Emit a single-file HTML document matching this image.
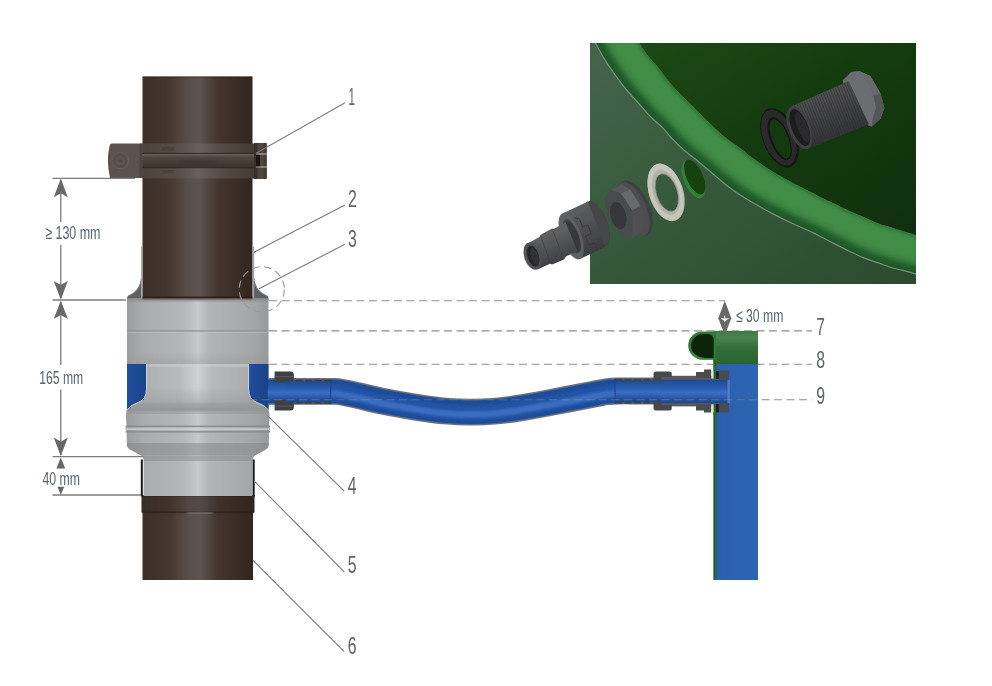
<!DOCTYPE html>
<html>
<head>
<meta charset="utf-8">
<title>Installation diagram</title>
<style>
html,body{margin:0;padding:0;background:#fff;}
body{width:992px;height:686px;overflow:hidden;font-family:"Liberation Sans",sans-serif;}
svg{display:block;filter:blur(0.45px);}
text{font-family:"Liberation Sans",sans-serif;}
.dim{fill:#56646d;font-size:18.4px;}
.num{fill:#5f6367;font-size:23px;}
.ld{stroke:#7b7b7b;stroke-width:1.1;fill:none;}
.dl{stroke:#7c7c7c;stroke-width:1.3;fill:none;}
.ds{stroke:#8e8e8e;stroke-width:1.15;fill:none;stroke-dasharray:8 4.5;}
.ar{fill:#686868;}
</style>
</head>
<body>
<svg width="992" height="686" viewBox="0 0 992 686">
<defs>
  <linearGradient id="gPipe" x1="0" y1="0" x2="1" y2="0">
    <stop offset="0" stop-color="#3b2f29"/>
    <stop offset="0.25" stop-color="#45382f"/>
    <stop offset="0.42" stop-color="#5a504b"/>
    <stop offset="0.52" stop-color="#5d5450"/>
    <stop offset="0.68" stop-color="#43362f"/>
    <stop offset="1" stop-color="#33261f"/>
  </linearGradient>
  <linearGradient id="gGrey" x1="0" y1="0" x2="1" y2="0">
    <stop offset="0" stop-color="#9a9c9d"/>
    <stop offset="0.12" stop-color="#a9abac"/>
    <stop offset="0.40" stop-color="#b4b6b7"/>
    <stop offset="0.50" stop-color="#c6c8c9"/>
    <stop offset="0.58" stop-color="#b2b4b5"/>
    <stop offset="0.88" stop-color="#a4a6a7"/>
    <stop offset="1" stop-color="#96989a"/>
  </linearGradient>
  <linearGradient id="gGreyIn" x1="0" y1="0" x2="1" y2="0">
    <stop offset="0" stop-color="#a7a9aa"/>
    <stop offset="0.38" stop-color="#b9bbbc"/>
    <stop offset="0.50" stop-color="#cfd1d2"/>
    <stop offset="0.60" stop-color="#b7b9ba"/>
    <stop offset="1" stop-color="#a3a5a6"/>
  </linearGradient>
  <linearGradient id="gBlueV" x1="0" y1="0" x2="0" y2="1">
    <stop offset="0" stop-color="#1d4a93"/>
    <stop offset="0.35" stop-color="#2a5db0"/>
    <stop offset="0.55" stop-color="#3c6dc0"/>
    <stop offset="0.8" stop-color="#2556a6"/>
    <stop offset="1" stop-color="#1c468c"/>
  </linearGradient>
  <linearGradient id="gBlueL" x1="0" y1="0" x2="1" y2="0">
    <stop offset="0" stop-color="#1f4f9d"/>
    <stop offset="1" stop-color="#1b4489"/>
  </linearGradient>
  <linearGradient id="gWater" x1="0" y1="0" x2="1" y2="0">
    <stop offset="0" stop-color="#2a60ad"/>
    <stop offset="1" stop-color="#2e65b3"/>
  </linearGradient>
  <linearGradient id="gTankTop" x1="0" y1="0" x2="0" y2="1">
    <stop offset="0" stop-color="#3c7b42"/>
    <stop offset="0.18" stop-color="#4a8450"/>
    <stop offset="0.5" stop-color="#336d39"/>
    <stop offset="1" stop-color="#2a6530"/>
  </linearGradient>
  <linearGradient id="gInsetDark" x1="0" y1="0" x2="1" y2="1">
    <stop offset="0" stop-color="#1d4a14"/>
    <stop offset="0.5" stop-color="#143a0f"/>
    <stop offset="1" stop-color="#0f2f0c"/>
  </linearGradient>
  <linearGradient id="gInsetWall" x1="0" y1="0" x2="1" y2="1">
    <stop offset="0" stop-color="#44654a"/>
    <stop offset="0.5" stop-color="#36583a"/>
    <stop offset="1" stop-color="#2b4a2e"/>
  </linearGradient>

  <linearGradient id="gBand" x1="0" y1="0" x2="1" y2="0">
    <stop offset="0" stop-color="#4d423c"/>
    <stop offset="0.3" stop-color="#574c46"/>
    <stop offset="0.5" stop-color="#6a615c"/>
    <stop offset="0.7" stop-color="#564b45"/>
    <stop offset="1" stop-color="#463a34"/>
  </linearGradient>
  <linearGradient id="gBandMid" x1="0" y1="0" x2="0" y2="1">
    <stop offset="0" stop-color="#5a504b"/>
    <stop offset="0.5" stop-color="#4a403b"/>
    <stop offset="1" stop-color="#3d332e"/>
  </linearGradient>
  <linearGradient id="gBlueR" x1="0" y1="0" x2="1" y2="0">
    <stop offset="0" stop-color="#1f4f9d"/>
    <stop offset="1" stop-color="#1a4286"/>
  </linearGradient>
  <linearGradient id="gShadeDn" x1="0" y1="0" x2="0" y2="1">
    <stop offset="0" stop-color="#8e9091" stop-opacity="0"/>
    <stop offset="1" stop-color="#8e9091" stop-opacity="0.35"/>
  </linearGradient>
  <linearGradient id="gShadeDn2" x1="0" y1="0" x2="0" y2="1">
    <stop offset="0" stop-color="#999b9c" stop-opacity="0"/>
    <stop offset="1" stop-color="#999b9c" stop-opacity="0.75"/>
  </linearGradient>

  <filter id="b05" x="-5%" y="-5%" width="110%" height="110%"><feGaussianBlur stdDeviation="0.55"/></filter>
  <linearGradient id="gBarrel" x1="0" y1="0" x2="0.35" y2="1">
    <stop offset="0" stop-color="#6b6c6e"/>
    <stop offset="0.45" stop-color="#5a5b5d"/>
    <stop offset="1" stop-color="#3c3d3f"/>
  </linearGradient>
  <linearGradient id="gNutBody" x1="0" y1="0" x2="0.4" y2="1">
    <stop offset="0" stop-color="#656668"/>
    <stop offset="0.5" stop-color="#525355"/>
    <stop offset="1" stop-color="#3d3e40"/>
  </linearGradient>
  <linearGradient id="gThread" x1="0" y1="0" x2="0.4" y2="1">
    <stop offset="0" stop-color="#5b5c5e"/>
    <stop offset="0.35" stop-color="#4e4f51"/>
    <stop offset="1" stop-color="#2f3032"/>
  </linearGradient>
  <pattern id="pThread" width="2.6" height="10" patternUnits="userSpaceOnUse" patternTransform="rotate(-22)">
    <rect x="0" y="0" width="1.1" height="10" fill="#2a2b2d"/>
  </pattern>
  <filter id="b1" x="-10%" y="-10%" width="120%" height="120%"><feGaussianBlur stdDeviation="0.6"/></filter>
  <filter id="b2" x="-10%" y="-10%" width="120%" height="120%"><feGaussianBlur stdDeviation="1.2"/></filter>
  <filter id="b3" x="-10%" y="-10%" width="120%" height="120%"><feGaussianBlur stdDeviation="3"/></filter>
  <clipPath id="cBand"><path d="M636.0 38.0 C636.5 38.8 636.9 39.8 638.9 42.7 C640.9 45.6 644.5 51.4 647.7 55.5 C650.9 59.6 654.8 63.3 657.9 67.2 C661.0 71.1 663.5 75.0 666.6 78.8 C669.7 82.6 672.5 86.0 676.3 90.0 C680.1 94.0 684.2 97.8 689.2 102.8 C694.2 107.8 700.8 114.7 706.6 120.3 C712.4 125.9 718.4 131.9 724.0 136.5 C729.6 141.1 735.5 144.6 740.0 148.0 C744.5 151.4 745.9 153.2 751.2 157.0 C756.5 160.8 764.8 166.8 771.6 171.0 C778.4 175.2 785.2 178.8 792.0 182.4 C798.8 186.0 807.7 190.3 812.4 192.7 C817.1 195.1 816.3 195.2 820.0 197.0 C823.7 198.8 829.7 201.5 834.6 203.8 C839.5 206.2 844.4 208.9 849.2 211.1 C854.1 213.3 858.9 214.9 863.7 217.0 C868.6 219.1 873.4 221.7 878.3 223.5 C883.2 225.3 888.0 226.4 892.9 227.9 C897.8 229.4 903.6 231.4 907.5 232.6 C911.4 233.8 913.3 234.3 916.2 235.2 C919.1 236.1 923.5 237.5 925.0 238.0 L925.0 277.0 C923.5 276.6 919.1 275.2 916.2 274.3 C913.3 273.4 911.4 272.7 907.5 271.6 C903.6 270.6 897.8 269.4 892.9 268.0 C888.0 266.6 883.2 264.6 878.3 262.9 C873.4 261.2 868.6 259.8 863.7 257.8 C858.9 255.9 854.1 253.5 849.2 251.2 C844.4 248.9 839.5 246.4 834.6 243.9 C829.7 241.4 823.7 238.2 820.0 236.3 C816.3 234.4 817.1 234.6 812.4 232.4 C807.7 230.2 798.8 226.5 792.0 223.3 C785.2 220.1 778.4 216.7 771.6 213.1 C764.8 209.5 758.0 205.9 751.2 201.8 C744.4 197.7 738.2 194.2 730.8 188.6 C723.4 183.0 712.6 173.5 706.6 168.5 C700.6 163.5 698.9 162.0 695.0 158.8 C691.1 155.6 687.2 153.0 683.3 149.5 C679.4 146.0 675.0 141.7 671.5 138.0 C668.0 134.3 665.8 131.1 662.3 127.5 C658.8 124.0 654.7 120.9 650.6 116.7 C646.5 112.5 641.6 106.7 637.5 102.1 C633.4 97.5 629.7 93.7 625.8 89.0 C621.9 84.3 617.8 78.8 614.2 73.7 C610.6 68.6 607.2 63.6 604.0 58.4 C600.8 53.2 597.2 46.1 595.2 42.7 C593.2 39.3 592.5 38.8 592.0 38.0 Z"/></clipPath>
  <clipPath id="cInset"><rect x="590" y="43" width="326" height="241"/></clipPath>
</defs>

<!-- ============ INSET IMAGE ============ -->
<g id="inset">
  <rect x="590" y="43" width="326" height="241" fill="url(#gInsetWall)"/>
  <g clip-path="url(#cInset)">
    <path d="M636.0 38.0 C636.5 38.8 636.9 39.8 638.9 42.7 C640.9 45.6 644.5 51.4 647.7 55.5 C650.9 59.6 654.8 63.3 657.9 67.2 C661.0 71.1 663.5 75.0 666.6 78.8 C669.7 82.6 672.5 86.0 676.3 90.0 C680.1 94.0 684.2 97.8 689.2 102.8 C694.2 107.8 700.8 114.7 706.6 120.3 C712.4 125.9 718.4 131.9 724.0 136.5 C729.6 141.1 735.5 144.6 740.0 148.0 C744.5 151.4 745.9 153.2 751.2 157.0 C756.5 160.8 764.8 166.8 771.6 171.0 C778.4 175.2 785.2 178.8 792.0 182.4 C798.8 186.0 807.7 190.3 812.4 192.7 C817.1 195.1 816.3 195.2 820.0 197.0 C823.7 198.8 829.7 201.5 834.6 203.8 C839.5 206.2 844.4 208.9 849.2 211.1 C854.1 213.3 858.9 214.9 863.7 217.0 C868.6 219.1 873.4 221.7 878.3 223.5 C883.2 225.3 888.0 226.4 892.9 227.9 C897.8 229.4 903.6 231.4 907.5 232.6 C911.4 233.8 913.3 234.3 916.2 235.2 C919.1 236.1 923.5 237.5 925.0 238.0 L925 36 Z" fill="url(#gInsetDark)"/>
    <path d="M636.0 38.0 C636.5 38.8 636.9 39.8 638.9 42.7 C640.9 45.6 644.5 51.4 647.7 55.5 C650.9 59.6 654.8 63.3 657.9 67.2 C661.0 71.1 663.5 75.0 666.6 78.8 C669.7 82.6 672.5 86.0 676.3 90.0 C680.1 94.0 684.2 97.8 689.2 102.8 C694.2 107.8 700.8 114.7 706.6 120.3 C712.4 125.9 718.4 131.9 724.0 136.5 C729.6 141.1 735.5 144.6 740.0 148.0 C744.5 151.4 745.9 153.2 751.2 157.0 C756.5 160.8 764.8 166.8 771.6 171.0 C778.4 175.2 785.2 178.8 792.0 182.4 C798.8 186.0 807.7 190.3 812.4 192.7 C817.1 195.1 816.3 195.2 820.0 197.0 C823.7 198.8 829.7 201.5 834.6 203.8 C839.5 206.2 844.4 208.9 849.2 211.1 C854.1 213.3 858.9 214.9 863.7 217.0 C868.6 219.1 873.4 221.7 878.3 223.5 C883.2 225.3 888.0 226.4 892.9 227.9 C897.8 229.4 903.6 231.4 907.5 232.6 C911.4 233.8 913.3 234.3 916.2 235.2 C919.1 236.1 923.5 237.5 925.0 238.0 L925.0 277.0 C923.5 276.6 919.1 275.2 916.2 274.3 C913.3 273.4 911.4 272.7 907.5 271.6 C903.6 270.6 897.8 269.4 892.9 268.0 C888.0 266.6 883.2 264.6 878.3 262.9 C873.4 261.2 868.6 259.8 863.7 257.8 C858.9 255.9 854.1 253.5 849.2 251.2 C844.4 248.9 839.5 246.4 834.6 243.9 C829.7 241.4 823.7 238.2 820.0 236.3 C816.3 234.4 817.1 234.6 812.4 232.4 C807.7 230.2 798.8 226.5 792.0 223.3 C785.2 220.1 778.4 216.7 771.6 213.1 C764.8 209.5 758.0 205.9 751.2 201.8 C744.4 197.7 738.2 194.2 730.8 188.6 C723.4 183.0 712.6 173.5 706.6 168.5 C700.6 163.5 698.9 162.0 695.0 158.8 C691.1 155.6 687.2 153.0 683.3 149.5 C679.4 146.0 675.0 141.7 671.5 138.0 C668.0 134.3 665.8 131.1 662.3 127.5 C658.8 124.0 654.7 120.9 650.6 116.7 C646.5 112.5 641.6 106.7 637.5 102.1 C633.4 97.5 629.7 93.7 625.8 89.0 C621.9 84.3 617.8 78.8 614.2 73.7 C610.6 68.6 607.2 63.6 604.0 58.4 C600.8 53.2 597.2 46.1 595.2 42.7 C593.2 39.3 592.5 38.8 592.0 38.0 Z" fill="#418c47"/>
    <g clip-path="url(#cBand)">
      <path d="M592.0 38.0 C592.5 38.8 593.2 39.3 595.2 42.7 C597.2 46.1 600.8 53.2 604.0 58.4 C607.2 63.6 610.6 68.6 614.2 73.7 C617.8 78.8 621.9 84.3 625.8 89.0 C629.7 93.7 633.4 97.5 637.5 102.1 C641.6 106.7 646.5 112.5 650.6 116.7 C654.7 120.9 658.8 124.0 662.3 127.5 C665.8 131.1 668.0 134.3 671.5 138.0 C675.0 141.7 679.4 146.0 683.3 149.5 C687.2 153.0 691.1 155.6 695.0 158.8 C698.9 162.0 700.6 163.5 706.6 168.5 C712.6 173.5 723.4 183.0 730.8 188.6 C738.2 194.2 744.4 197.7 751.2 201.8 C758.0 205.9 764.8 209.5 771.6 213.1 C778.4 216.7 785.2 220.1 792.0 223.3 C798.8 226.5 807.7 230.2 812.4 232.4 C817.1 234.6 816.3 234.4 820.0 236.3 C823.7 238.2 829.7 241.4 834.6 243.9 C839.5 246.4 844.4 248.9 849.2 251.2 C854.1 253.5 858.9 255.9 863.7 257.8 C868.6 259.8 873.4 261.2 878.3 262.9 C883.2 264.6 888.0 266.6 892.9 268.0 C897.8 269.4 903.6 270.6 907.5 271.6 C911.4 272.7 913.3 273.4 916.2 274.3 C919.1 275.2 923.5 276.6 925.0 277.0" stroke="#1f5526" stroke-width="17" fill="none" filter="url(#b3)" opacity="0.95"/>
      <path d="M636.0 38.0 C636.5 38.8 636.9 39.8 638.9 42.7 C640.9 45.6 644.5 51.4 647.7 55.5 C650.9 59.6 654.8 63.3 657.9 67.2 C661.0 71.1 663.5 75.0 666.6 78.8 C669.7 82.6 672.5 86.0 676.3 90.0 C680.1 94.0 684.2 97.8 689.2 102.8 C694.2 107.8 700.8 114.7 706.6 120.3 C712.4 125.9 718.4 131.9 724.0 136.5 C729.6 141.1 735.5 144.6 740.0 148.0 C744.5 151.4 745.9 153.2 751.2 157.0 C756.5 160.8 764.8 166.8 771.6 171.0 C778.4 175.2 785.2 178.8 792.0 182.4 C798.8 186.0 807.7 190.3 812.4 192.7 C817.1 195.1 816.3 195.2 820.0 197.0 C823.7 198.8 829.7 201.5 834.6 203.8 C839.5 206.2 844.4 208.9 849.2 211.1 C854.1 213.3 858.9 214.9 863.7 217.0 C868.6 219.1 873.4 221.7 878.3 223.5 C883.2 225.3 888.0 226.4 892.9 227.9 C897.8 229.4 903.6 231.4 907.5 232.6 C911.4 233.8 913.3 234.3 916.2 235.2 C919.1 236.1 923.5 237.5 925.0 238.0" stroke="#2f7536" stroke-width="5" fill="none" filter="url(#b2)" opacity="0.8"/>
    </g>
    <path d="M592.0 38.0 C592.5 38.8 593.2 39.3 595.2 42.7 C597.2 46.1 600.8 53.2 604.0 58.4 C607.2 63.6 610.6 68.6 614.2 73.7 C617.8 78.8 621.9 84.3 625.8 89.0 C629.7 93.7 633.4 97.5 637.5 102.1 C641.6 106.7 646.5 112.5 650.6 116.7 C654.7 120.9 658.8 124.0 662.3 127.5 C665.8 131.1 668.0 134.3 671.5 138.0 C675.0 141.7 679.4 146.0 683.3 149.5 C687.2 153.0 691.1 155.6 695.0 158.8 C698.9 162.0 700.6 163.5 706.6 168.5 C712.6 173.5 723.4 183.0 730.8 188.6 C738.2 194.2 744.4 197.7 751.2 201.8 C758.0 205.9 764.8 209.5 771.6 213.1 C778.4 216.7 785.2 220.1 792.0 223.3 C798.8 226.5 807.7 230.2 812.4 232.4 C817.1 234.6 816.3 234.4 820.0 236.3 C823.7 238.2 829.7 241.4 834.6 243.9 C839.5 246.4 844.4 248.9 849.2 251.2 C854.1 253.5 858.9 255.9 863.7 257.8 C868.6 259.8 873.4 261.2 878.3 262.9 C883.2 264.6 888.0 266.6 892.9 268.0 C897.8 269.4 903.6 270.6 907.5 271.6 C911.4 272.7 913.3 273.4 916.2 274.3 C919.1 275.2 923.5 276.6 925.0 277.0" stroke="#7c977e" stroke-width="1.25" fill="none" filter="url(#b1)" opacity="0.9"/>
  </g>
</g>

<!-- ============ INSET FITTINGS ============ -->
<g id="fittings" filter="url(#b05)">
  <!-- hole in wall -->
  <g transform="translate(693.4 179.4) rotate(-24)">
    <ellipse cx="0" cy="0" rx="9.4" ry="20.2" fill="#2f8236"/>
    <ellipse cx="2.2" cy="-1.6" rx="8.2" ry="18.6" fill="#124210"/>
  </g>
  <!-- washer -->
  <g transform="translate(666.1 192.4) rotate(-18)">
    <path d="M-17.1 0.0 A17.1 29.8 0 1 1 17.1 0.0 A17.1 29.8 0 1 1 -17.1 0.0 Z M-10.0 0.4 A10.6 19.6 0 1 0 11.2 0.4 A10.6 19.6 0 1 0 -10.0 0.4 Z" fill="#b3b2a8" fill-rule="evenodd"/>
    <path d="M-16.9 -0.3 A16.6 29.3 0 1 1 16.3 -0.3 A16.6 29.3 0 1 1 -16.9 -0.3 Z M-12.8 -0.2 A12.6 23.6 0 1 0 12.4 -0.2 A12.6 23.6 0 1 0 -12.8 -0.2 Z" fill="#c9c8bf" fill-rule="evenodd" opacity="0.9"/>
    <path d="M-10.0 0.4 A10.6 19.6 0 1 0 11.2 0.4 A10.6 19.6 0 1 0 -10.0 0.4 Z" fill="none" stroke="#9b9a90" stroke-width="0.9" opacity="0.8"/>
  </g>
  <!-- hex nut -->
  <g>
    <g transform="translate(634.9 208.3) rotate(-24)">
      <ellipse cx="0" cy="0" rx="14.6" ry="29.6" fill="#404143"/>
      <ellipse cx="-2.2" cy="0" rx="13.4" ry="28.8" fill="#4d4e50"/>
    </g>
    <path d="M604.9 197.4 L610.2 189.8 L620.9 193.3 L632.3 210.8 L632.3 238.3 L628.8 238.8 L617.2 231.8 L607.3 216.7 Z" fill="#4a4b4d"/>
    <path d="M610.2 189.8 L621.8 184.6 L630.0 189.3 L620.9 193.3 Z" fill="#57585a"/>
    <path d="M620.9 193.3 L630.0 189.3 L640.5 205.6 L632.3 210.8 Z" fill="#68696b"/>
    <path d="M632.3 210.8 L640.5 205.6 L646.3 221.3 L641.7 231.3 L632.3 238.3 Z" fill="#4f5052"/>
    <g transform="translate(619.5 214.9) rotate(-15)">
      <ellipse cx="0" cy="0" rx="9.3" ry="14.8" fill="#4d4e50"/>
      <ellipse cx="-1.3" cy="0.2" rx="7.8" ry="14" fill="#36373a"/>
    </g>
  </g>
  <!-- hose adapter -->
  <g>
    <!-- union nut -->
    <g transform="translate(596.6 224.2) rotate(-21)">
      <ellipse cx="0" cy="0" rx="11" ry="24.4" fill="#454648"/>
    </g>
    <path d="M562.5 213.5 L587.9 201.4 L605.3 247.0 L579.9 259.1 Z" fill="url(#gNutBody)"/>
    <path d="M574 217.5 L579.5 219 L582.5 227 L588 225 L591 233.5 L585.5 236 L588.5 245 L594.5 243 L597.5 251" stroke="#38393b" stroke-width="1" fill="none" opacity="0.85"/>
    <g transform="translate(571.2 236.3) rotate(-21)">
      <ellipse cx="0" cy="0" rx="9.8" ry="24.4" fill="#5f6062"/>
      <ellipse cx="0.8" cy="0.3" rx="6.8" ry="18" fill="#454648"/>
      <ellipse cx="1.2" cy="0.4" rx="5.8" ry="16.2" fill="#38393b"/>
    </g>
    <!-- barrel -->
    <path d="M528.6 243 L539 237.2 L541 234.6 L552 228.4 L553.6 229 L565.5 222.2 L577.4 251 L566 256.5 L564 259.5 L552 264.5 L550 263.8 L537.5 269.5 Z" fill="url(#gBarrel)"/>
    <path d="M552.5 229.5 L563.5 258.5" stroke="#3a3b3d" stroke-width="0.9" opacity="0.6"/>
    <path d="M540.5 235.6 L550.5 263.5" stroke="#3a3b3d" stroke-width="0.9" opacity="0.6"/>
    <!-- open end -->
    <g transform="translate(532.4 256.1) rotate(-18)">
      <ellipse cx="0" cy="0" rx="8.2" ry="14" fill="#505153"/>
      <ellipse cx="0.7" cy="0.2" rx="5.6" ry="10.8" fill="#262729"/>
      <ellipse cx="2" cy="0.6" rx="3.6" ry="9" fill="#333436" opacity="0.8"/>
    </g>
  </g>
  <!-- black o-ring -->
  <g transform="translate(779.6 137.6) rotate(-21)">
    <path d="M-17.0 0.0 A17.0 31.1 0 1 1 17.0 0.0 A17.0 31.1 0 1 1 -17.0 0.0 Z M-7.8 1.4 A7.9 20.7 0 1 0 8.0 1.4 A7.9 20.7 0 1 0 -7.8 1.4 Z" fill="#171717" fill-rule="evenodd"/>
    <path d="M-16.0 -0.4 A15.4 29.4 0 1 1 14.8 -0.4 A15.4 29.4 0 1 1 -16.0 -0.4 Z M-9.9 1.0 A9.6 22.6 0 1 0 9.3 1.0 A9.6 22.6 0 1 0 -9.9 1.0 Z" fill="#2b2b2b" fill-rule="evenodd" opacity="0.9"/>
  </g>
  <!-- threaded fitting -->
  <g>
    <!-- flange -->
    <path d="M842.7 80.5 L851.4 71.9 L859.5 70.9 L870.4 76 L880.6 93.5 L884.4 108.1 L880.8 118.5 L871.9 126.5 L863 123.5 L850 100 Z" fill="#606163"/>
    <path d="M842.7 80.5 L851.4 71.9 L859.5 70.9 L864 75 L872.5 92 L876 108 L872.5 119.5 L871.9 126.5 L863 123.5 L850 100 Z" fill="#6c6d6f"/>
    <path d="M859.5 70.9 L870.4 76 L880.6 93.5 L873.5 95 L864 75 Z" fill="#6a6b6d"/>
    <path d="M880.6 93.5 L884.4 108.1 L880.8 118.5 L871.9 126.5 L872.5 119.5 L876 108 L873.5 95 Z" fill="#555658"/>
    <!-- cylinder -->
    <path d="M790.9 106.7 L848.5 81.1 L868.9 124.2 L807.7 148.9 Z" fill="url(#gThread)"/>
    <path d="M790.9 106.7 L848.5 81.1 L868.9 124.2 L807.7 148.9 Z" fill="url(#pThread)" opacity="0.5"/>
    <g transform="translate(799.3 127.8) rotate(-21.7)">
      <ellipse cx="0" cy="0" rx="10.6" ry="22.7" fill="#3f4042"/>
      <ellipse cx="0.6" cy="0" rx="8.2" ry="19.4" fill="#1c1d1e"/>
      <ellipse cx="3.2" cy="0.8" rx="5" ry="16" fill="#2f3032" opacity="0.8"/>
    </g>
  </g>
</g>
</g>

<!-- ============ DOWNPIPE ============ -->
<g id="pipe">
  <rect x="142.5" y="76.5" width="110" height="223" fill="url(#gPipe)"/>
  <!-- lower pipe with collar -->
  <rect x="142.5" y="495" width="110.5" height="85" fill="url(#gPipe)"/>
  <rect x="141.5" y="495" width="113" height="17.5" fill="url(#gPipe)"/>
  <rect x="141.5" y="495" width="113" height="17.5" fill="#2a1f1a" opacity="0.18"/>
  <rect x="142" y="511.5" width="112" height="1.6" fill="#241a15" opacity="0.55" filter="url(#b1)"/>
  <ellipse cx="200" cy="513" rx="14" ry="1.3" fill="#776e69" opacity="0.7" filter="url(#b1)"/>
  <rect x="142.5" y="495" width="110" height="1.5" fill="#2a1f1a" opacity="0.5"/>
  <rect x="142.5" y="76.5" width="110" height="1.2" fill="#2a1f1a" opacity="0.5"/>
</g>

<!-- ============ CLAMP ============ -->
<g id="clamp">
  <!-- left lug -->
  <path d="M112 143.5 L142.5 143.5 L142.5 178 L110 178 Q106 160.5 109.5 146.5 Q110 143.5 112 143.5 Z" fill="#5b524d"/>
  <rect x="139.5" y="143.5" width="3.5" height="34.5" fill="#4a403b" opacity="0.7"/>
  <circle cx="120.2" cy="160.5" r="8.3" fill="#58504b" stroke="#6a625d" stroke-width="0.8"/>
  <circle cx="120.2" cy="160.5" r="5.5" fill="#5d5550" stroke="#4e4641" stroke-width="0.6"/>
  <circle cx="120.2" cy="160.5" r="1.5" fill="#4a423d"/>
  <!-- band -->
  <rect x="142.5" y="143.5" width="111.5" height="35" fill="url(#gBand)"/>
  <rect x="142.5" y="153.5" width="111.5" height="14" fill="url(#gBandMid)"/>
  <rect x="142.5" y="152.8" width="111.5" height="1.2" fill="#2e2420" opacity="0.7"/>
  <rect x="142.5" y="167" width="111.5" height="1.2" fill="#2e2420" opacity="0.7"/>
  <ellipse cx="197" cy="162.5" rx="20" ry="2.6" fill="#362c27" opacity="0.4" filter="url(#b2)"/>
  <rect x="142.5" y="154" width="111.5" height="1.6" fill="#7a716c" opacity="0.45" filter="url(#b1)"/>
  <rect x="162" y="147" width="12" height="3.4" fill="#3e342f" opacity="0.35" filter="url(#b1)"/>
  <rect x="162" y="170" width="12" height="3.4" fill="#3e342f" opacity="0.35" filter="url(#b1)"/>
  <!-- right hinge -->
  <rect x="254" y="143" width="12.7" height="36" rx="2" fill="#50463f"/>
  <rect x="254" y="143" width="3.5" height="36" fill="#3b312c"/>
  <rect x="263.5" y="143" width="3.2" height="36" fill="#463c36"/>
  <rect x="256" y="154.5" width="4" height="13" fill="#1d1512"/>
  <rect x="256" y="153.5" width="11" height="1" fill="#d8d4d0" opacity="0.8"/>
  <rect x="256" y="166.5" width="11" height="1" fill="#d8d4d0" opacity="0.8"/>
</g>

<!-- ============ GREY COLLECTOR ============ -->
<g id="collector">
  <!-- upper thin sleeves + shoulder -->
  <path d="M141 278 Q140 291 128.5 295.6 Q126.8 296.6 127 299 L142.5 299 L142.5 278 Z" fill="#5e6061"/>
  <path d="M254.2 278 Q255.2 291 266.8 295.6 Q268.6 296.6 268.5 299 L252.7 299 L252.7 278 Z" fill="#5e6061"/>
  <path d="M140.6 283 Q138.5 291.5 128.5 295.8" stroke="#8b8d8e" stroke-width="0.9" fill="none" opacity="0.8"/>
  <path d="M254.6 283 Q256.7 291.5 266.8 295.8" stroke="#8b8d8e" stroke-width="0.9" fill="none" opacity="0.8"/>
  <rect x="141" y="246.5" width="1.5" height="52" fill="#a3a5a6"/>
  <rect x="252.7" y="246.5" width="1.5" height="52" fill="#a3a5a6"/>
  <!-- main body -->
  <path d="M127 298.5 L127 409 Q125.2 415 126.6 426 Q124.5 428.5 126.6 431 L126.8 445 Q127.5 448.5 131 450 L141 455.5 Q143.6 457 143.6 460 L143.6 496 L252.6 496 L252.6 460 Q252.6 457 255 455.5 L265 450 Q268.2 448.5 268.8 445 L269 431 Q271 428.5 269 426 Q270.2 415 268.5 409 L268.5 298.5 Z" fill="url(#gGrey)"/>
  <!-- pipe bottom shadow on top of body -->
  <rect x="142.5" y="296.5" width="110" height="3.2" fill="#2b201b" opacity="0.85"/>
  <rect x="127" y="298.5" width="141.5" height="3" fill="#8a8c8d" opacity="0.7" filter="url(#b1)"/>
  <!-- seam -->
  <rect x="127" y="330.3" width="141.5" height="1.4" fill="#8b8d8e" opacity="0.9"/>
  <rect x="127" y="331.7" width="141.5" height="1.2" fill="#c3c5c6" opacity="0.6"/>
  <!-- upper shading bands -->
  <rect x="127" y="352" width="141.5" height="12" fill="url(#gShadeDn)"/>
  <!-- inner lighter section between blue cut-aways -->
  <path d="M146.5 364 L248.6 364 L248.6 389 Q248.6 399.5 257 402.5 Q265.5 405.5 268.5 410 L127 410 Q129.5 405.5 138 402.5 Q146.5 399.5 146.5 389 Z" fill="url(#gGreyIn)"/>
  <rect x="146.5" y="364" width="102" height="2.6" fill="#d3d5d6" opacity="0.45"/>
  <rect x="127" y="386" width="141.5" height="24.5" fill="url(#gShadeDn2)"/>
  <rect x="127" y="403" width="141.5" height="8" fill="#8a8c8d" opacity="0.35" filter="url(#b2)"/>
  <!-- blue cut-aways -->
  <path d="M127 364 L146.5 364 L146.5 389 Q146.5 399.5 138 402.5 Q129.5 405.5 127 410 Z" fill="url(#gBlueL)"/>
  <path d="M268.5 364 L248.6 364 L248.6 389 Q248.6 399.5 257 402.5 Q265.5 405.5 268.5 410 Z" fill="url(#gBlueR)"/>
  <path d="M146.5 364 L146.5 389 Q146.5 399.5 138 402.5 Q129.5 405.5 127 410" stroke="#e4e6e7" stroke-width="0.9" fill="none" opacity="0.9"/>
  <path d="M248.6 364 L248.6 389 Q248.6 399.5 257 402.5 Q265.5 405.5 268.5 410" stroke="#e4e6e7" stroke-width="0.9" fill="none" opacity="0.9"/>
  <!-- lower bulge shading -->
  <rect x="127" y="408" width="141.5" height="6" fill="#8d8f90" opacity="0.35" filter="url(#b1)"/>
  <rect x="125.5" y="425.5" width="144.5" height="1.6" fill="#858788" opacity="0.8" filter="url(#b1)"/>
  <rect x="125.5" y="428.3" width="144.5" height="1.6" fill="#d0d2d3" opacity="0.8" filter="url(#b1)"/>
  <rect x="125.5" y="431" width="144.5" height="1.6" fill="#858788" opacity="0.8" filter="url(#b1)"/>
  <path d="M127 443 L268.5 443 L268.7 446 Q268 448.5 265 450 L255 455.5 L141 455.5 L131 450 Q127.5 448.5 126.8 446 Z" fill="#7f8182" opacity="0.45" filter="url(#b1)"/>
  <rect x="143.6" y="456" width="109" height="5" fill="#8a8c8d" opacity="0.5" filter="url(#b1)"/>
  <!-- black sleeve lines -->
  <rect x="140.8" y="459.5" width="2" height="37" fill="#1a1a1a"/>
  <rect x="252.7" y="459.5" width="2" height="37" fill="#1a1a1a"/>
</g>

<!-- ============ DASHED REFERENCE LINES (under hose) ============ -->
<g id="dashes">
  <path class="ds" d="M269 300.7 L725 300.7"/>
  <path class="ds" d="M269 330.9 L812 330.9"/>
  <path class="ds" d="M269 364.2 L812 364.2"/>
</g>

<!-- ============ TANK ============ -->
<g id="tank">
  <rect x="714" y="363.5" width="44" height="216.5" fill="url(#gWater)"/>
  <rect x="713.6" y="331" width="44.4" height="33" fill="url(#gTankTop)"/>
  <!-- left wall -->
  <rect x="713.6" y="345" width="2.8" height="235" fill="#2a6a31"/>
  <rect x="713.6" y="345" width="0.9" height="235" fill="#1f4f24"/>
  <!-- rolled rim -->
  <path d="M716 331.4 L702.4 331.4 A14.1 14.1 0 0 0 702.4 359.7 L716 359.7 Z" fill="#2d7a33"/>
  <path d="M713.7 339 Q713 334 706 333.9 L702.8 333.9 A11.6 12.1 0 0 0 702.8 358.1 L713.7 358.1 Z" fill="#0c230a"/>
  <path d="M693 352 Q697 357.4 704 357.6 L704 359.7 Q695 359.7 691 352.5 Z" fill="#3f9146" opacity="0.8"/>
</g>

<!-- ============ HOSE ============ -->
<g id="hose">
  <path d="M268.0 391.4 C273.3 391.4 289.5 391.4 300.0 391.4 C310.5 391.4 324.3 391.3 331.0 391.4 C337.7 391.5 335.2 391.1 340.0 391.9 C344.8 392.7 353.2 394.5 360.0 396.0 C366.8 397.5 370.4 398.8 380.5 400.8 C390.6 402.8 410.1 406.2 420.8 407.9 C431.6 409.6 436.6 410.3 445.0 411.0 C453.4 411.7 462.5 412.2 471.2 412.2 C479.9 412.2 488.9 411.7 497.0 411.0 C505.1 410.3 510.8 409.4 520.0 407.9 C529.2 406.4 540.4 404.4 552.5 402.1 C564.6 399.8 583.5 396.1 592.8 394.3 C602.0 392.6 603.8 392.2 608.0 391.6 C612.2 391.1 612.7 391.1 618.0 391.0 C623.3 390.9 632.7 391.0 640.0 391.0 C647.3 391.0 658.3 391.0 662.0 391.0" stroke="#77787a" stroke-width="26.8" fill="none"/>
  <path d="M268.0 391.4 C273.3 391.4 289.5 391.4 300.0 391.4 C310.5 391.4 324.3 391.3 331.0 391.4 C337.7 391.5 335.2 391.1 340.0 391.9 C344.8 392.7 353.2 394.5 360.0 396.0 C366.8 397.5 370.4 398.8 380.5 400.8 C390.6 402.8 410.1 406.2 420.8 407.9 C431.6 409.6 436.6 410.3 445.0 411.0 C453.4 411.7 462.5 412.2 471.2 412.2 C479.9 412.2 488.9 411.7 497.0 411.0 C505.1 410.3 510.8 409.4 520.0 407.9 C529.2 406.4 540.4 404.4 552.5 402.1 C564.6 399.8 583.5 396.1 592.8 394.3 C602.0 392.6 603.8 392.2 608.0 391.6 C612.2 391.1 612.7 391.1 618.0 391.0 C623.3 390.9 632.7 391.0 640.0 391.0 C647.3 391.0 658.3 391.0 662.0 391.0" stroke="#2254a6" stroke-width="23.6" fill="none"/>
  <path d="M268.0 391.4 C273.3 391.4 289.5 391.4 300.0 391.4 C310.5 391.4 324.3 391.3 331.0 391.4 C337.7 391.5 335.2 391.1 340.0 391.9 C344.8 392.7 353.2 394.5 360.0 396.0 C366.8 397.5 370.4 398.8 380.5 400.8 C390.6 402.8 410.1 406.2 420.8 407.9 C431.6 409.6 436.6 410.3 445.0 411.0 C453.4 411.7 462.5 412.2 471.2 412.2 C479.9 412.2 488.9 411.7 497.0 411.0 C505.1 410.3 510.8 409.4 520.0 407.9 C529.2 406.4 540.4 404.4 552.5 402.1 C564.6 399.8 583.5 396.1 592.8 394.3 C602.0 392.6 603.8 392.2 608.0 391.6 C612.2 391.1 612.7 391.1 618.0 391.0 C623.3 390.9 632.7 391.0 640.0 391.0 C647.3 391.0 658.3 391.0 662.0 391.0" stroke="#1c4890" stroke-width="23.6" fill="none" opacity="0.0"/>
  <g filter="url(#b2)">
    <path d="M268.0 391.4 C273.3 391.4 289.5 391.4 300.0 391.4 C310.5 391.4 324.3 391.3 331.0 391.4 C337.7 391.5 335.2 391.1 340.0 391.9 C344.8 392.7 353.2 394.5 360.0 396.0 C366.8 397.5 370.4 398.8 380.5 400.8 C390.6 402.8 410.1 406.2 420.8 407.9 C431.6 409.6 436.6 410.3 445.0 411.0 C453.4 411.7 462.5 412.2 471.2 412.2 C479.9 412.2 488.9 411.7 497.0 411.0 C505.1 410.3 510.8 409.4 520.0 407.9 C529.2 406.4 540.4 404.4 552.5 402.1 C564.6 399.8 583.5 396.1 592.8 394.3 C602.0 392.6 603.8 392.2 608.0 391.6 C612.2 391.1 612.7 391.1 618.0 391.0 C623.3 390.9 632.7 391.0 640.0 391.0 C647.3 391.0 658.3 391.0 662.0 391.0" stroke="#3f70c3" stroke-width="6.5" fill="none" transform="translate(0,2.2)" opacity="0.9"/>
    <path d="M268.0 391.4 C273.3 391.4 289.5 391.4 300.0 391.4 C310.5 391.4 324.3 391.3 331.0 391.4 C337.7 391.5 335.2 391.1 340.0 391.9 C344.8 392.7 353.2 394.5 360.0 396.0 C366.8 397.5 370.4 398.8 380.5 400.8 C390.6 402.8 410.1 406.2 420.8 407.9 C431.6 409.6 436.6 410.3 445.0 411.0 C453.4 411.7 462.5 412.2 471.2 412.2 C479.9 412.2 488.9 411.7 497.0 411.0 C505.1 410.3 510.8 409.4 520.0 407.9 C529.2 406.4 540.4 404.4 552.5 402.1 C564.6 399.8 583.5 396.1 592.8 394.3 C602.0 392.6 603.8 392.2 608.0 391.6 C612.2 391.1 612.7 391.1 618.0 391.0 C623.3 390.9 632.7 391.0 640.0 391.0 C647.3 391.0 658.3 391.0 662.0 391.0" stroke="#1b4791" stroke-width="4" fill="none" transform="translate(0,-9.5)" opacity="0.75"/>
    <path d="M268.0 391.4 C273.3 391.4 289.5 391.4 300.0 391.4 C310.5 391.4 324.3 391.3 331.0 391.4 C337.7 391.5 335.2 391.1 340.0 391.9 C344.8 392.7 353.2 394.5 360.0 396.0 C366.8 397.5 370.4 398.8 380.5 400.8 C390.6 402.8 410.1 406.2 420.8 407.9 C431.6 409.6 436.6 410.3 445.0 411.0 C453.4 411.7 462.5 412.2 471.2 412.2 C479.9 412.2 488.9 411.7 497.0 411.0 C505.1 410.3 510.8 409.4 520.0 407.9 C529.2 406.4 540.4 404.4 552.5 402.1 C564.6 399.8 583.5 396.1 592.8 394.3 C602.0 392.6 603.8 392.2 608.0 391.6 C612.2 391.1 612.7 391.1 618.0 391.0 C623.3 390.9 632.7 391.0 640.0 391.0 C647.3 391.0 658.3 391.0 662.0 391.0" stroke="#1b4791" stroke-width="3.5" fill="none" transform="translate(0,10)" opacity="0.7"/>
  </g>
  <!-- left coupling -->
  <rect x="268" y="380.5" width="20" height="22" fill="url(#gBlueV)"/>
  <rect x="286" y="379.5" width="45" height="24.5" fill="#55575a"/>
  <rect x="286" y="381.2" width="45" height="21" fill="url(#gBlueV)"/>
  <path d="M286 380.6 L331 380.6 M286 402.9 L331 402.9" stroke="#3b3c3e" stroke-width="1.3" stroke-dasharray="7 2.5" fill="none"/>
  <rect x="330" y="379.4" width="1.2" height="24.6" fill="#173f82" opacity="0.7"/>
  <path d="M274.6 371.5 L291 371.5 Q293.5 371.5 293.8 374 L294 380 L286 380 L286 382.3 L274.6 382.3 Z" fill="#3f4043"/>
  <path d="M274.6 410.6 L291 410.6 Q293.5 410.6 293.8 408 L294 402.5 L286 402.5 L286 400 L274.6 400 Z" fill="#3f4043"/>
  <rect x="274.6" y="376" width="19" height="1.2" fill="#5d5e61" opacity="0.8"/>
  <rect x="274.6" y="405.5" width="19" height="1.2" fill="#5d5e61" opacity="0.8"/>
  <!-- right coupling -->
  <rect x="615" y="378.6" width="46" height="25" fill="#55575a"/>
  <rect x="615" y="380.4" width="46" height="21.5" fill="url(#gBlueV)"/>
  <path d="M615 379.8 L661 379.8 M615 402.6 L661 402.6" stroke="#3b3c3e" stroke-width="1.3" stroke-dasharray="7 2.5" fill="none"/>
  <rect x="614.5" y="378.6" width="1.2" height="25" fill="#173f82" opacity="0.7"/>
  <!-- grey sleeve -->
  <rect x="660" y="375.8" width="69" height="30.6" fill="#58595c"/>
  <rect x="660" y="379.8" width="69" height="23.4" fill="url(#gBlueV)"/>
  <rect x="727.5" y="379.8" width="2.2" height="23.4" fill="#5b86d0" opacity="0.8"/>
  <!-- nut 1 -->
  <path d="M653.5 373.5 Q653.5 371.5 656 371.5 L669.5 371.5 Q671.8 371.5 671.8 373.5 L671.8 377 L661.5 377 L661.5 381 L653.5 381 Z" fill="#47484b"/>
  <path d="M653.5 408.5 Q653.5 410.5 656 410.5 L669.5 410.5 Q671.8 410.5 671.8 408.5 L671.8 405 L661.5 405 L661.5 401.5 L653.5 401.5 Z" fill="#47484b"/>
  <!-- nut 2 -->
  <path d="M696 372 L704 372 L704 369.6 L711.3 369.6 L711.3 378 L696 378 Z" fill="#4b4c4f"/>
  <path d="M696 410.5 L704 410.5 L704 412.6 L711.3 412.6 L711.3 404.5 L696 404.5 Z" fill="#4b4c4f"/>
  <!-- white gasket -->
  <rect x="711.3" y="370.5" width="2.6" height="8" fill="#e6e2d8"/>
  <rect x="711.3" y="404.3" width="2.6" height="8" fill="#e6e2d8"/>
  <!-- wall through fitting -->
  <rect x="713.6" y="364" width="2.6" height="15.5" fill="#2a6a31"/>
  <rect x="713.6" y="403.5" width="2.6" height="12" fill="#2a6a31"/>
  <!-- black seal -->
  <rect x="716.2" y="371" width="2.6" height="8" fill="#151515"/>
  <rect x="716.2" y="404" width="2.6" height="8.4" fill="#151515"/>
  <!-- inner flange -->
  <rect x="718.8" y="370.6" width="10.3" height="9.4" fill="#4b4c4f"/>
  <rect x="718.8" y="403" width="10.3" height="9.5" fill="#4b4c4f"/>
</g>

<!-- dashed line 9 drawn over hose faintly + outside -->
<g id="dash9">
  <path class="ds" d="M249 399.7 L758.5 399.7" opacity="0.5"/>
  <path class="ds" d="M758.5 399.7 L812 399.7" stroke-dashoffset="9.5"/>
</g>

<!-- dashed detail circle -->
<circle cx="261.8" cy="289.3" r="22.6" fill="none" stroke="#9a9a9a" stroke-width="1.1" stroke-dasharray="7.5 4.5"/>

<!-- ============ DIMENSIONS ============ -->
<g id="dims">
  <path class="dl" d="M52.5 178.3 L135 178.3"/>
  <path class="dl" d="M52.5 300 L126 300"/>
  <path class="dl" d="M52.5 456.6 L143.5 456.6"/>
  <path class="dl" d="M52.5 495 L141 495"/>
  <path class="dl" d="M60.8 180 L60.8 222 M60.8 245 L60.8 298"/>
  <path class="dl" d="M60.8 302 L60.8 365 M60.8 389.5 L60.8 455"/>
    <!-- arrowheads (notched) -->
  <path class="ar" d="M60.8 178.6 L67.8 197.3 L60.8 193.2 L53.8 197.3 Z"/>
  <path class="ar" d="M60.8 299.7 L67.8 281 L60.8 285.1 L53.8 281 Z"/>
  <path class="ar" d="M60.8 300.4 L67.8 319.1 L60.8 315 L53.8 319.1 Z"/>
  <path class="ar" d="M60.8 456.3 L67.8 437.6 L60.8 441.7 L53.8 437.6 Z"/>
  <path class="ar" d="M60.8 457.6 L65.2 468.6 L56.4 468.6 Z"/>
  <path class="ar" d="M60.8 495 L64.2 486.8 L57.4 486.8 Z"/>
  <!-- 30 mm diamond arrow -->
  <path class="ar" d="M724.8 300.8 L731.3 318.3 L724.8 335.3 L718.3 318.3 Z"/>
  <path d="M720.3 318.3 L729.3 318.3 L724.8 321.3 Z" fill="#fff" opacity="0.9"/>
  <path d="M724.8 315.6 L724.8 322" stroke="#fff" stroke-width="0.8"/>
</g>

<!-- ============ LEADER LINES ============ -->
<g id="leaders">
  <path class="ld" d="M345 102.8 L256.5 153"/>
  <path class="ld" d="M345 204.9 L254 252.3"/>
  <path class="ld" d="M345 244.3 L259 288.7"/>
  <path class="ld" d="M344.2 491.2 L267.5 415.7"/>
  <path class="ld" d="M344.2 571.8 L253.8 480.6"/>
  <path class="ld" d="M344.2 651.7 L253 560.4"/>
</g>

<!-- ============ TEXT ============ -->
<g id="labels">
  <text class="num" x="348.5" y="104.6" textLength="6.5" lengthAdjust="spacingAndGlyphs">1</text>
  <text class="num" x="347.9" y="206.7" textLength="8.8" lengthAdjust="spacingAndGlyphs">2</text>
  <text class="num" x="347.9" y="246.8" textLength="8.8" lengthAdjust="spacingAndGlyphs">3</text>
  <text class="num" x="347.7" y="494.4" textLength="8.8" lengthAdjust="spacingAndGlyphs">4</text>
  <text class="num" x="347.7" y="573" textLength="8.8" lengthAdjust="spacingAndGlyphs">5</text>
  <text class="num" x="347.7" y="653.7" textLength="8.8" lengthAdjust="spacingAndGlyphs">6</text>
  <text class="num" x="816.3" y="335.2" textLength="8.6" lengthAdjust="spacingAndGlyphs">7</text>
  <text class="num" x="816.3" y="368.3" textLength="8.8" lengthAdjust="spacingAndGlyphs">8</text>
  <text class="num" x="816.3" y="403.7" textLength="8.8" lengthAdjust="spacingAndGlyphs">9</text>
  <text class="dim" x="45.2" y="239.4" textLength="55.3" lengthAdjust="spacingAndGlyphs">&#8805; 130 mm</text>
  <text class="dim" x="39.2" y="384" textLength="44" lengthAdjust="spacingAndGlyphs">165 mm</text>
  <text class="dim" x="42.4" y="484.6" textLength="37.5" lengthAdjust="spacingAndGlyphs">40 mm</text>
  <text class="dim" x="736" y="321.9" textLength="47.3" lengthAdjust="spacingAndGlyphs">&#8804; 30 mm</text>
</g>
</svg>
</body>
</html>
